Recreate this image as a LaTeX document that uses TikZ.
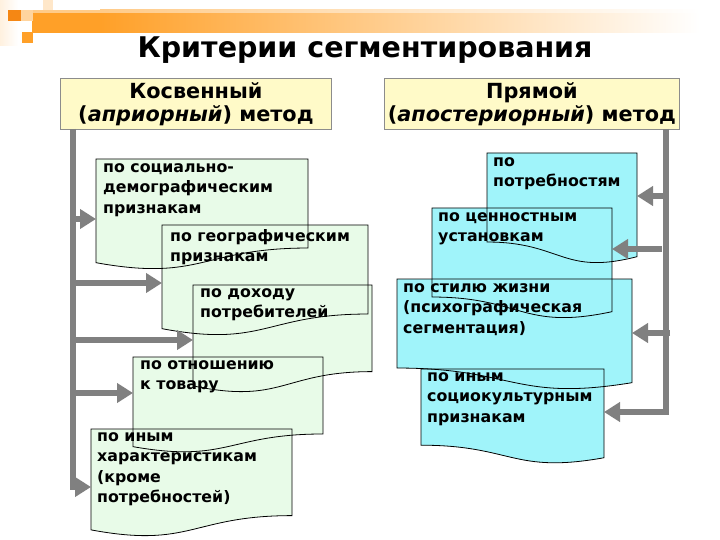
\documentclass[tikz,border=0pt]{standalone}
\usepackage{fontspec}
\setmainfont{DejaVu Sans}
\usetikzlibrary{arrows.meta,calc}
\definecolor{boxg}{RGB}{232,251,232}
\definecolor{boxc}{RGB}{160,244,250}
\definecolor{hdr}{RGB}{255,250,200}
\definecolor{arrg}{RGB}{128,128,128}
\definecolor{org}{RGB}{255,160,40}
\definecolor{orgd}{RGB}{245,135,20}
% standard document shape: L T W H
\newcommand\docA[4]{(#1,#2) -- ({#1+#3},#2) -- ({#1+#3},{#2+0.802*#4}) .. controls ({#1+#3/2},{#2+0.802*#4}) and ({#1+#3/2},{#2+1.1075*#4}) .. (#1,{#2+0.934*#4}) -- cycle}
% mirrored document shape
\newcommand\docB[4]{(#1,#2) -- ({#1+#3},#2) -- ({#1+#3},{#2+0.934*#4}) .. controls ({#1+#3/2},{#2+1.1075*#4}) and ({#1+#3/2},{#2+0.802*#4}) .. (#1,{#2+0.802*#4}) -- cycle}
\begin{document}
\begin{tikzpicture}[x=1pt,y=-1pt,
  holder/.style={draw=none,inner sep=0,outer sep=0,anchor=north west},
  txt/.style={font=\bfseries\fontsize{15.8}{20.5}\selectfont,align=left,inner sep=0,anchor=north west},
  hdrbox/.style={draw=black!45,line width=0.8pt,fill=hdr,inner sep=0,anchor=north west},
  hdrtxt/.style={font=\bfseries\fontsize{20.8}{23}\selectfont,align=center,inner sep=0},
  arr/.style={draw=arrg,line width=6pt,-{Triangle[width=19pt,length=16pt]}},
  gfill/.style={fill=boxg,draw=none},
  cfill/.style={fill=boxc,draw=none},
  outl/.style={draw=black,line width=0.8pt}]
\useasboundingbox (0,0) rectangle (720,540);
\fill[white] (0,0) rectangle (720,540);
% decoration
\shade[left color=org!15,right color=white] (0,0) rectangle (18,46);
\shade[left color=org,right color=white] (100,10) rectangle (700,33);
\fill[org] (32,10) rectangle (100.5,33);
\fill[org!55] (32,10) rectangle (100.5,13);
\shade[left color=org!55,right color=white] (100,10) rectangle (700,13);
\fill[orgd] (8,10) rectangle (21,21);
\fill[org!45] (21,10) rectangle (33,21);
\fill[org] (22,32) rectangle (33,43);
\fill[org!25] (43,0) rectangle (53,10);
% title
\node[font=\bfseries\fontsize{28.5}{32}\selectfont,inner sep=0] (title) at (365,50) {Критерии сегментирования};
% headers
\node[hdrbox,minimum width=271pt,minimum height=51pt] (hL) at (60,78) {};
\node[hdrtxt] (hLt) at (hL.center) {Косвенный\\(\textit{априорный}) метод};
\node[hdrbox,minimum width=295pt,minimum height=51pt] (hR) at (384,78) {};
\node[hdrtxt] (hRt) at (hR.center) {Прямой\\(\textit{апостериорный}) метод};
% holders
\node[holder,minimum width=212pt,minimum height=111pt] (b1) at (96,159) {};
\node[holder,minimum width=206pt,minimum height=111pt] (b2) at (162,225) {};
\node[holder,minimum width=179pt,minimum height=108pt] (b3) at (193,285) {};
\node[holder,minimum width=190pt,minimum height=96pt] (b4) at (133,357) {};
\node[holder,minimum width=201pt,minimum height=108pt] (b5) at (91,429) {};
\node[holder,minimum width=150pt,minimum height=111pt] (r1) at (487,153) {};
\node[holder,minimum width=180pt,minimum height=111pt] (r2) at (432,208) {};
\node[holder,minimum width=235pt,minimum height=111pt] (r3) at (397,279) {};
\node[holder,minimum width=183pt,minimum height=95pt] (r4) at (421,369) {};
% fills
\path[gfill] \docA{96}{159}{212}{111};
\path[gfill] \docA{162}{225}{206}{111};
\path[gfill] \docA{193}{285}{179}{108};
\path[gfill] \docA{133}{357}{190}{96};
\path[gfill] \docA{91}{429}{201}{108};
\path[cfill] \docB{487}{153}{150}{111};
\path[cfill] \docB{432}{208}{180}{111};
\path[cfill] \docB{397}{279}{235}{111};
\path[cfill] \docB{421}{369}{183}{95};
% outlines
\path[outl] \docA{96}{159}{212}{111};
\path[outl] \docA{162}{225}{206}{111};
\path[outl] \docA{193}{285}{179}{108};
\path[outl] \docA{133}{357}{190}{96};
\path[outl] \docA{91}{429}{201}{108};
\path[outl] \docB{487}{153}{150}{111};
\path[outl] \docB{432}{208}{180}{111};
\path[outl] \docB{397}{279}{235}{111};
\path[outl] \docB{421}{369}{183}{95};
% texts
\node[txt] (b1t) at ($(b1.north west)+(7,4)$) {по социально-\\демографическим\\признакам};
\node[txt] (b2t) at ($(b2.north west)+(8,4)$) {по географическим\\признакам};
\node[txt] (b3t) at ($(b3.north west)+(7,3)$) {по доходу\\потребителей};
\node[txt] (b4t) at ($(b4.north west)+(7,3)$) {по отношению\\к товару};
\node[txt] (b5t) at ($(b5.north west)+(6,3)$) {по иным\\характеристикам\\(кроме\\потребностей)};
\node[txt] (r1t) at ($(r1.north west)+(6,4)$) {по\\потребностям};
\node[txt] (r2t) at ($(r2.north west)+(6,4)$) {по ценностным\\установкам};
\node[txt] (r3t) at ($(r3.north west)+(6,4)$) {по стилю жизни\\(психографическая\\сегментация)};
\node[txt] (r4t) at ($(r4.north west)+(6,3)$) {по иным\\социокультурным\\признакам};
% left connectors
\coordinate (lb) at (73,129);
\coordinate (la1) at (73,219);
\coordinate (la2) at (73,283);
\coordinate (la3) at (73,340);
\coordinate (la4) at (73,393);
\coordinate (la5) at (73,487);
\draw[arr] (lb) -- (la5) -- (la5 -| b5.west);
\draw[arr] (la1) -- (la1 -| b1.west);
\draw[arr] (la2) -- (la2 -| b2.west);
\draw[arr] (la3) -- (la3 -| b3.west);
\draw[arr] (la4) -- (la4 -| b4.west);
% right connectors
\coordinate (rb) at (666,129);
\coordinate (ra1) at (666,196);
\coordinate (ra2) at (662,249);
\coordinate (ra3) at (670,333);
\coordinate (ra4) at (666,412);
\draw[arr] (rb) -- (ra4) -- (ra4 -| r4.east);
\draw[arr] (ra1) -- (ra1 -| r1.east);
\draw[arr] (ra2) -- (ra2 -| r2.east);
\draw[arr] (ra3) -- (ra3 -| r3.east);
\end{tikzpicture}
\end{document}
